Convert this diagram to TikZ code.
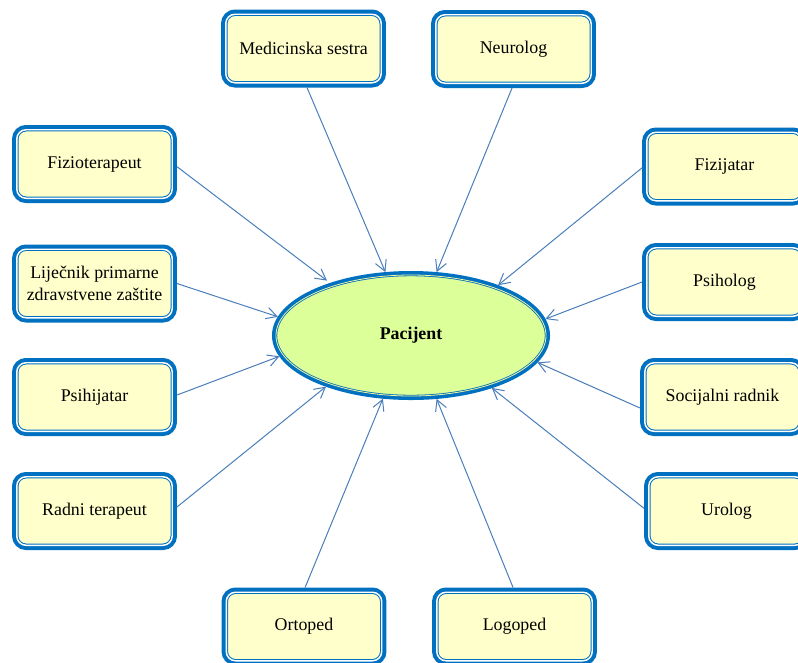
\documentclass[tikz,border=0pt]{standalone}
\usepackage{fontspec}
\setmainfont{Liberation Serif}
\usetikzlibrary{arrows.meta,shapes.geometric}
\definecolor{bblue}{HTML}{0070C0}
\definecolor{byel}{HTML}{FFFFCC}
\definecolor{egreen}{HTML}{DDFF99}
\definecolor{aline}{HTML}{4A7EBB}
\definecolor{eyel}{HTML}{F0F5A0}
\begin{document}
\begin{tikzpicture}[x=0.75pt,y=-0.75pt,
  role/.style={rectangle, rounded corners=7pt, minimum width=116.6pt, minimum height=51.4pt,
    inner sep=0pt, outer sep=3.55pt, fill=byel, draw=bblue, line width=0.75pt,
    double=white, double distance=1.1pt, preaction={draw=bblue, line width=7.1pt},
    font=\fontsize{13.4}{17}\selectfont, align=center, text=black},
  pat/.style={ellipse, minimum width=202.5pt, minimum height=90.75pt, inner sep=0pt,
    outer sep=3pt, fill=egreen, draw=bblue, line width=0.6pt, double=eyel,
    double distance=0.6pt, preaction={draw=bblue, line width=6pt},
    font=\bfseries\fontsize{13.4}{16}\selectfont, text=black},
  conn/.style={draw=aline, line width=0.75pt, -{Straight Barb[length=8pt,width=8.7pt]}}]
\useasboundingbox (0,0) rectangle (798,662);
\clip (0,0) rectangle (798,662);

\node[pat] (pac) at (411,335.5) {Pacijent};

\node[role] (ms) at (303.5,48.5) {Medicinska sestra};
\node[role] (ne) at (513.5,49) {Neurolog};
\node[role] (fz) at (94.5,164) {Fizioterapeut};
\node[role] (lj) at (94.5,283.5) {Liječnik primarne\\zdravstvene zaštite};
\node[role] (ps) at (94.5,397) {Psihijatar};
\node[role] (rt) at (94.5,511) {Radni terapeut};
\node[role] (fi) at (724.5,166.5) {Fizijatar};
\node[role] (pg) at (724.5,282) {Psiholog};
\node[role] (sr) at (722.5,397) {Socijalni radnik};
\node[role] (ur) at (726.5,511) {Urolog};
\node[role] (or) at (304,626.5) {Ortoped};
\node[role] (lo) at (514.5,626.5) {Logoped};

\draw[conn] ([xshift=2.6pt]ms.south) -- (pac.112);
\draw[conn] ([xshift=-1.1pt]ne.south) -- (pac.68);
\draw[conn, shorten >=3pt] ([yshift=-2pt]fz.east) -- (pac.147);
\draw[conn] (lj.east) -- (pac.172.3);
\draw[conn] ([yshift=1.5pt]ps.east) -- (pac.189);
\draw[conn] ([yshift=3pt]rt.east) -- (pac.211.5);
\draw[conn] ([yshift=-1pt]fi.west) -- (pac.30.6);
\draw[conn] (pg.west) -- (pac.7.3);
\draw[conn] ([yshift=-8.25pt]sr.west) -- (pac.348.6);
\draw[conn] ([yshift=2pt]ur.west) -- (pac.327.9);
\draw[conn] ([xshift=0.8pt]or.north) -- (pac.246.3);
\draw[conn] ([xshift=-1.1pt]lo.north) -- (pac.292);
\end{tikzpicture}
\end{document}
